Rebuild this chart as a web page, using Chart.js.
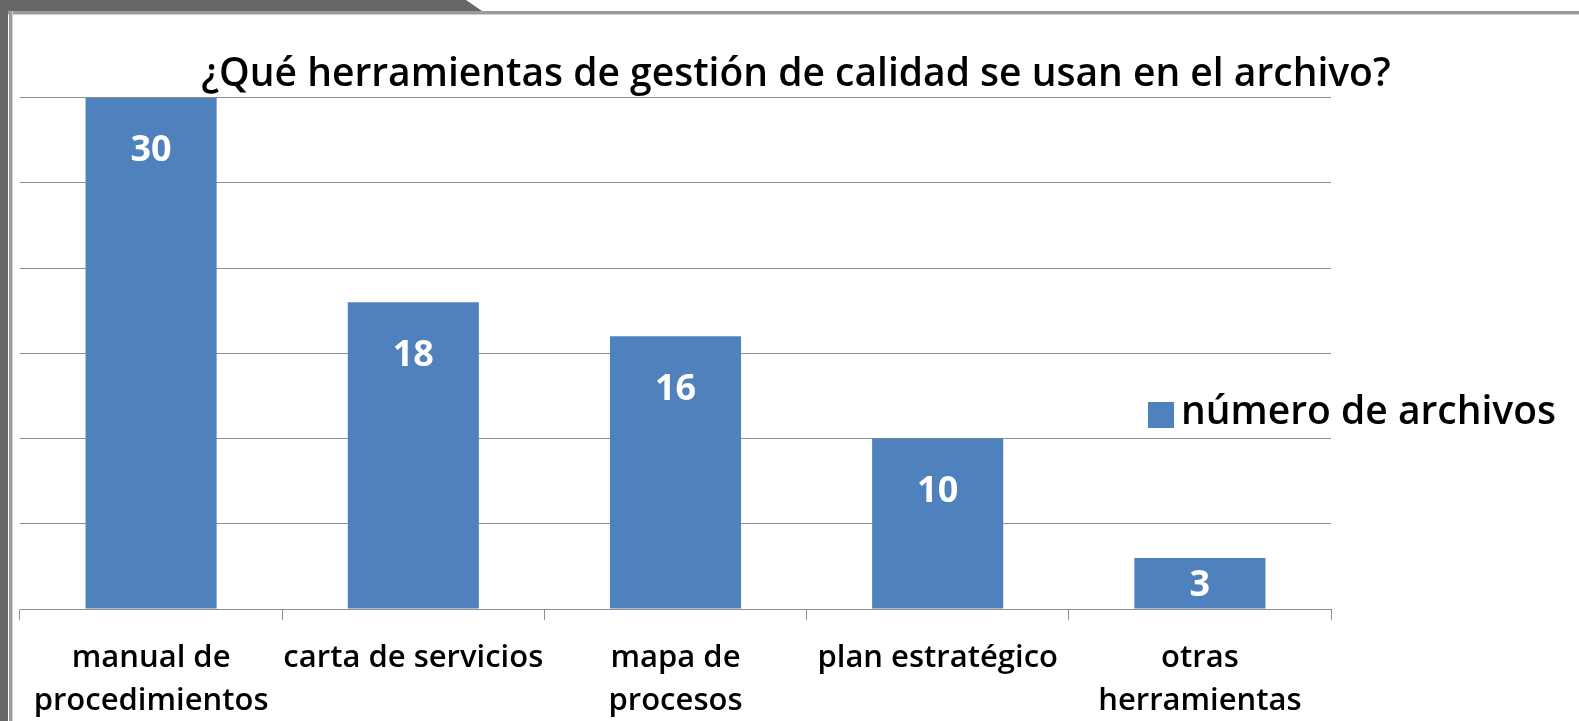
<!DOCTYPE html>
<html lang="es">
  <head>
    <meta charset="UTF-8" />
    <title>Herramientas de gestión de calidad</title>
    <style>
      html,
      body {
        margin: 0;
        padding: 0;
        background: #fff;
        overflow: hidden;
      }
      #wrap {
        position: relative;
        width: 1579px;
        height: 721px;
      }
      canvas {
        position: absolute;
        left: 0;
        top: 0;
      }
      .frame-left {
        position: absolute;
        left: 0;
        top: 0;
        width: 8px;
        height: 721px;
        background: #666;
      }
      .frame-top {
        position: absolute;
        left: 0;
        top: 0;
        width: 482px;
        height: 11px;
        background: #666;
        clip-path: polygon(0 0, 466px 0, 482px 11px, 0 11px);
      }
      .line-top {
        position: absolute;
        left: 8px;
        top: 11px;
        width: 1571px;
        height: 3px;
        background: #9a9a9a;
        border-bottom: 1px solid #d0d0d0;
      }
      .line-left {
        position: absolute;
        left: 9px;
        top: 11px;
        width: 3px;
        height: 710px;
        background: #9a9a9a;
        border-right: 1px solid #d0d0d0;
      }
    </style>
  </head>
  <body>
    <div id="wrap">
      <canvas id="chart" width="1579" height="721"></canvas>
      <div class="frame-left"></div>
      <div class="frame-top"></div>
      <div class="line-top"></div>
      <div class="line-left"></div>
    </div>

    <script src="https://cdn.jsdelivr.net/npm/chart.js"></script>
    <script>
      const titleText =
        "¿Qué herramientas de gestión de calidad se usan en el archivo?";
      const categories = [
        ["manual de", "procedimientos"],
        "carta de servicios",
        ["mapa de", "procesos"],
        "plan estratégico",
        ["otras", "herramientas"],
      ];
      const seriesLabel = "número de archivos";
      const archivos = [30, 18, 16, 10, 3];
      const barColor = "#4f81bd";
      const fontFamily = "'Open Sans', Lato, sans-serif";

      // value labels inside the top of each bar
      const valueLabels = {
        id: "valueLabels",
        afterDatasetsDraw(chart) {
          const ctx = chart.ctx;
          const meta = chart.getDatasetMeta(0);
          ctx.save();
          ctx.fillStyle = "#fff";
          ctx.font = "bold 36px " + fontFamily;
          ctx.textAlign = "center";
          ctx.textBaseline = "middle";
          meta.data.forEach((bar, i) => {
            const mid = (bar.y + bar.base) / 2 + 3;
            const y = Math.min(bar.y + 53, mid);
            ctx.fillText(String(archivos[i]), bar.x, y);
          });
          ctx.restore();
        },
      };

      // legend drawn over the right side like the spreadsheet original
      const sideLegend = {
        id: "sideLegend",
        afterDraw(chart) {
          const ctx = chart.ctx;
          const ds = chart.data.datasets[0];
          ctx.save();
          ctx.fillStyle = ds.backgroundColor;
          ctx.fillRect(1148, 402, 26, 26);
          ctx.fillStyle = "#000";
          ctx.font = "600 39px " + fontFamily;
          ctx.textAlign = "left";
          ctx.textBaseline = "middle";
          ctx.fillText(ds.label, 1181, 413);
          ctx.restore();
        },
      };

      new Chart(document.getElementById("chart"), {
        type: "bar",
        data: {
          labels: categories,
          datasets: [
            {
              label: seriesLabel,
              data: archivos,
              backgroundColor: barColor,
              categoryPercentage: 1,
              barPercentage: 0.5,
            },
          ],
        },
        options: {
          responsive: false,
          animation: false,
          layout: {
            padding: { left: 13, right: 0, top: 0, bottom: 0 },
          },
          plugins: {
            legend: { display: false },
            tooltip: { enabled: false },
            title: {
              display: true,
              text: titleText,
              color: "#000",
              font: { family: fontFamily, size: 39, weight: "600" },
              padding: { top: 51, bottom: 0 },
            },
          },
          scales: {
            x: {
              grid: {
                drawOnChartArea: false,
                drawTicks: true,
                tickLength: 11,
                color: "#8e8e8e",
              },
              border: { color: "#8e8e8e", width: 1 },
              ticks: {
                color: "#000",
                font: { family: fontFamily, size: 31, weight: "600", lineHeight: 1.38 },
                padding: 17,
                maxRotation: 0,
                autoSkip: false,
              },
              afterFit(scale) {
                scale.height = 112;
              },
            },
            y: {
              min: 0,
              max: 30,
              ticks: { display: false, stepSize: 5 },
              grid: { color: "#8e8e8e", drawTicks: false },
              border: { display: false },
              afterFit(scale) {
                scale.width = 7;
              },
            },
            // empty right-hand space where the legend sits
            yRight: {
              position: "right",
              min: 0,
              max: 1,
              ticks: { display: false },
              grid: { display: false },
              border: { display: false },
              afterFit(scale) {
                scale.width = 248;
              },
            },
          },
        },
        plugins: [valueLabels, sideLegend],
      });
    </script>
  </body>
</html>
